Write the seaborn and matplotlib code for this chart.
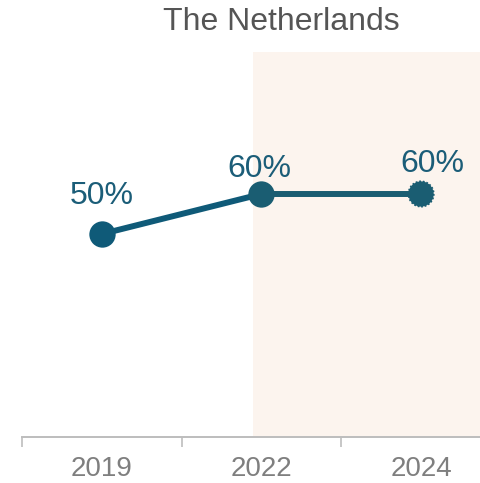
import matplotlib
matplotlib.use("Agg")
import matplotlib.pyplot as plt
import seaborn as sns
import pandas as pd

years = ["2019", "2022", "2024"]
shares = [50, 60, 60]
labels = ["50%", "60%", "60%"]
projected = [False, False, True]

sns.set_theme(style="white")
plt.rcParams["font.family"] = ["Liberation Sans", "DejaVu Sans"]

line_color = "#0F5A78"
recent_color = "#1A5D72"
marker_colors = [line_color, recent_color, recent_color]
# label offsets in points (dx, dy) above each marker
label_offsets = [(0, 16.8), (-1.8, 7.4), (8.3, 11.0)]
grey = "#BDBDBD"

df = pd.DataFrame({"pos": range(len(years)), "share": shares, "year": years,
                   "projected": projected})

fig = plt.figure(figsize=(4.8, 4.83), dpi=100)
ax = fig.add_axes([22 / 480, 1 - 437 / 483, 458 / 480, 385 / 483])

# forecast band
ax.axvspan(0.944, 2.5, color="#FCF4EE", zorder=0, lw=0)

sns.lineplot(data=df.iloc[:2], x="pos", y="share", ax=ax, color=line_color,
             linewidth=4.3, zorder=2)
sns.lineplot(data=df.iloc[1:], x="pos", y="share", ax=ax, color=recent_color,
             linewidth=4.3, zorder=2)
for i, row in df.iterrows():
    if row["projected"]:
        ax.scatter([row["pos"]], [row["share"]], s=330, color=marker_colors[i],
                   edgecolors=marker_colors[i], linewidths=1.3,
                   linestyle=(0, (1.0, 1.0)), zorder=3)
    else:
        sns.scatterplot(x=[row["pos"]], y=[row["share"]], ax=ax,
                        color=marker_colors[i], s=360, linewidth=0, zorder=3)

for p, v, lab, (dx, dy) in zip(df["pos"], df["share"], labels, label_offsets):
    ax.annotate(lab, (p, v), xytext=(dx, dy), textcoords="offset points",
                ha="center", va="bottom", fontsize=23, color="#1B5D78")

ax.set_xlim(-0.494, 2.369)
ax.set_ylim(-0.75, 95.5)
ax.set_xlabel("")
ax.set_ylabel("")
ax.set_yticks([])
ax.set_xticks([-0.5, 0.5, 1.5])
ax.set_xticklabels([])
ax.set_xticks(range(len(years)), minor=True)
ax.set_xticklabels(years, minor=True)
ax.tick_params(axis="x", which="major", length=7, width=1.2, color=grey,
               direction="out", bottom=True)
ax.tick_params(axis="x", which="minor", length=0, pad=14, labelsize=20,
               labelcolor="#7F7F7F")
for s in ["top", "right", "left"]:
    ax.spines[s].set_visible(False)
ax.spines["bottom"].set_color(grey)
ax.spines["bottom"].set_linewidth(1.4)
ax.spines["bottom"].set_zorder(5)

fig.text(281 / 480, 1 - 30 / 483, "The Netherlands", ha="center",
         va="baseline", fontsize=23, color="#555555")

fig.savefig("out.png", dpi=100, facecolor="white")
